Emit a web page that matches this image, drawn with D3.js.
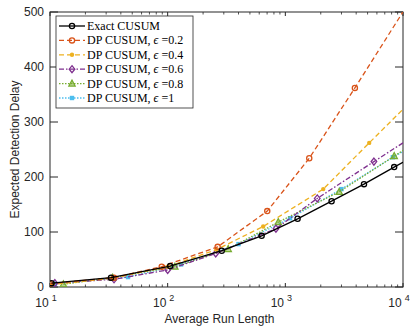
<!DOCTYPE html>
<html>
<head>
<meta charset="utf-8">
<script src="https://cdn.jsdelivr.net/npm/d3@7"></script>
<style>
  body { margin: 0; background: #fff; }
  svg { display: block; }
  .tick-label { font-family: "Liberation Sans", Arial, sans-serif; font-size: 12px; fill: #262626; }
  .legend text { font-family: "Liberation Serif", "Times New Roman", serif; font-size: 12px; fill: #000; }
</style>
</head>
<body>
<svg id="chart" width="415" height="329"></svg>
<script>
// values (last point of each series sits past 10^4 and is clipped)
const exactX = [10.3, 33, 105, 288, 629, 1271, 2472, 4660, 8414, 12000];
const exactY = [7, 17, 38, 66, 93, 124, 156, 187, 218, 236];

const eps02X = [10, 35, 89, 266, 702, 1597, 3900, 12000];
const eps02Y = [6, 17, 37, 73, 138, 234, 362, 527];

const eps04X = [10, 34, 100, 260, 648, 2100, 5160, 12000];
const eps04Y = [4, 16, 37, 68, 110, 178, 262, 340];

const eps06X = [11, 35, 100, 256, 832, 1867, 5660, 12000];
const eps06Y = [7, 14, 31, 61, 106, 161, 228, 273];

const eps08X = [13, 34, 115, 327, 871, 2870, 8420, 12000];
const eps08Y = [5, 17, 37, 69, 118, 173, 238, 259];

const eps1X = [11, 46, 130, 400, 1097, 3000, 8200, 12000];
const eps1Y = [6, 18, 41, 78, 125, 178, 236, 256];

const legendLabels = ["Exact CUSUM", "DP CUSUM, \u03f5 =0.2", "DP CUSUM, \u03f5 =0.4",
                      "DP CUSUM, \u03f5 =0.6", "DP CUSUM, \u03f5 =0.8", "DP CUSUM, \u03f5 =1"];
const yTicks = [0, 100, 200, 300, 400, 500];
const xTicks = [10, 100, 1000, 10000];

const series = [
  { xs: exactX, ys: exactY, color: "#000000", dash: null, marker: "circle" },
  { xs: eps02X, ys: eps02Y, color: "#D95319", dash: "5,3", marker: "ocircle" },
  { xs: eps04X, ys: eps04Y, color: "#EDB120", dash: "5,3", marker: "dot" },
  { xs: eps06X, ys: eps06Y, color: "#7E2F8E", dash: "5,2,1.5,2", marker: "diamond" },
  { xs: eps08X, ys: eps08Y, color: "#77AC30", dash: "1.5,1.5", marker: "triangle" },
  { xs: eps1X, ys: eps1Y, color: "#4DBEEE", dash: "1.5,1.5", marker: "star" }
];

const mLeft = 50, mRight = 403, mTop = 12, mBottom = 287;
const svg = d3.select("#chart");

const x = d3.scaleLog().domain([10, 10000]).range([mLeft, mRight]);
const y = d3.scaleLinear().domain([0, 500]).range([mBottom, mTop]);

svg.append("defs").append("clipPath").attr("id", "clip")
  .append("rect").attr("x", mLeft).attr("y", mTop).attr("width", mRight - mLeft).attr("height", mBottom - mTop);

const axisColor = "#262626";

// axes with inward ticks, mirrored on the opposite side
const minorTicks = [];
[10, 100, 1000].forEach(d => { for (let k = 2; k <= 9; k++) minorTicks.push(d * k); });

const axes = svg.append("g");
axes.append("rect").attr("x", mLeft).attr("y", mTop).attr("width", mRight - mLeft).attr("height", mBottom - mTop)
  .attr("fill", "none").attr("stroke", axisColor).attr("stroke-width", 1);

xTicks.forEach(t => {
  axes.append("line").attr("x1", x(t)).attr("x2", x(t)).attr("y1", mBottom).attr("y2", mBottom - 4).attr("stroke", axisColor);
  axes.append("line").attr("x1", x(t)).attr("x2", x(t)).attr("y1", mTop).attr("y2", mTop + 4).attr("stroke", axisColor);
});
minorTicks.forEach(t => {
  axes.append("line").attr("x1", x(t)).attr("x2", x(t)).attr("y1", mBottom).attr("y2", mBottom - 2.5).attr("stroke", axisColor).attr("stroke-width", 0.8);
  axes.append("line").attr("x1", x(t)).attr("x2", x(t)).attr("y1", mTop).attr("y2", mTop + 2.5).attr("stroke", axisColor).attr("stroke-width", 0.8);
});
yTicks.forEach(t => {
  axes.append("line").attr("x1", mLeft).attr("x2", mLeft + 8).attr("y1", y(t)).attr("y2", y(t)).attr("stroke", axisColor);
  axes.append("line").attr("x1", mRight).attr("x2", mRight - 8).attr("y1", y(t)).attr("y2", y(t)).attr("stroke", axisColor);
  axes.append("text").attr("class", "tick-label").attr("x", mLeft - 6).attr("y", y(t) + 4)
    .attr("text-anchor", "end").text(t);
});
xTicks.forEach(t => {
  const e = Math.round(Math.log10(t));
  const lbl = axes.append("text").attr("class", "tick-label").attr("x", x(t) - 4).attr("y", 307).attr("text-anchor", "middle");
  lbl.append("tspan").text("10");
  lbl.append("tspan").attr("dx", 3).attr("dy", -6).attr("font-size", 9).text(e);
});

svg.append("text").attr("class", "tick-label").attr("x", (mLeft + mRight) / 2 - 7).attr("y", 323)
  .attr("text-anchor", "middle").text("Average Run Length");
svg.append("text").attr("class", "tick-label")
  .attr("transform", `translate(19,${(mTop + mBottom) / 2}) rotate(-90)`)
  .attr("text-anchor", "middle").text("Expected Detection Delay");

// markers
function drawMarker(g, type, color, cx, cy) {
  if (type === "circle" || type === "ocircle") {
    g.append("circle").attr("cx", cx).attr("cy", cy).attr("r", 2.6)
      .attr("fill", "none").attr("stroke", color).attr("stroke-width", 1.3);
  } else if (type === "dot") {
    g.append("circle").attr("cx", cx).attr("cy", cy).attr("r", 2.2).attr("fill", color);
  } else if (type === "diamond") {
    g.append("path").attr("d", `M${cx},${cy - 3.5}L${cx + 2.8},${cy}L${cx},${cy + 3.5}L${cx - 2.8},${cy}Z`)
      .attr("fill", "none").attr("stroke", color).attr("stroke-width", 1.3);
  } else if (type === "triangle") {
    g.append("path").attr("d", `M${cx},${cy - 3.5}L${cx + 3.2},${cy + 2.5}L${cx - 3.2},${cy + 2.5}Z`)
      .attr("fill", color).attr("fill-opacity", 0.5).attr("stroke", color).attr("stroke-width", 1.2);
  } else if (type === "star") {
    g.append("rect").attr("x", cx - 2.2).attr("y", cy - 2.2).attr("width", 4.4).attr("height", 4.4).attr("fill", color);
  }
}

const plot = svg.append("g").attr("clip-path", "url(#clip)");
const line = d3.line().x(d => x(d[0])).y(d => y(d[1]));

// draw in reverse so Exact CUSUM ends on top
series.slice().reverse().forEach(s => {
  const pts = s.xs.map((v, i) => [v, s.ys[i]]);
  plot.append("path").datum(pts).attr("d", line).attr("fill", "none")
    .attr("stroke", s.color).attr("stroke-width", 1.3)
    .attr("stroke-dasharray", s.dash);
  const mg = plot.append("g");
  pts.forEach(p => drawMarker(mg, s.marker, s.color, x(p[0]), y(p[1])));
});

// legend
const lg = svg.append("g").attr("class", "legend");
lg.append("rect").attr("x", 56).attr("y", 16).attr("width", 137).attr("height", 92)
  .attr("fill", "#fff").attr("stroke", axisColor).attr("stroke-width", 0.8);
series.forEach((s, i) => {
  const ry = 26 + i * 14.4;
  lg.append("line").attr("x1", 59).attr("x2", 85).attr("y1", ry).attr("y2", ry)
    .attr("stroke", s.color).attr("stroke-width", 1.3).attr("stroke-dasharray", s.dash);
  drawMarker(lg, s.marker, s.color, 72, ry);
  const t = lg.append("text").attr("x", 87).attr("y", ry + 4);
  const lbl = legendLabels[i];
  const k = lbl.indexOf("\u03f5");
  if (k < 0) { t.text(lbl); }
  else {
    t.append("tspan").text(lbl.slice(0, k));
    t.append("tspan").attr("font-style", "italic").text("\u03f5");
    t.append("tspan").text(lbl.slice(k + 1));
  }
});
</script>
</body>
</html>
